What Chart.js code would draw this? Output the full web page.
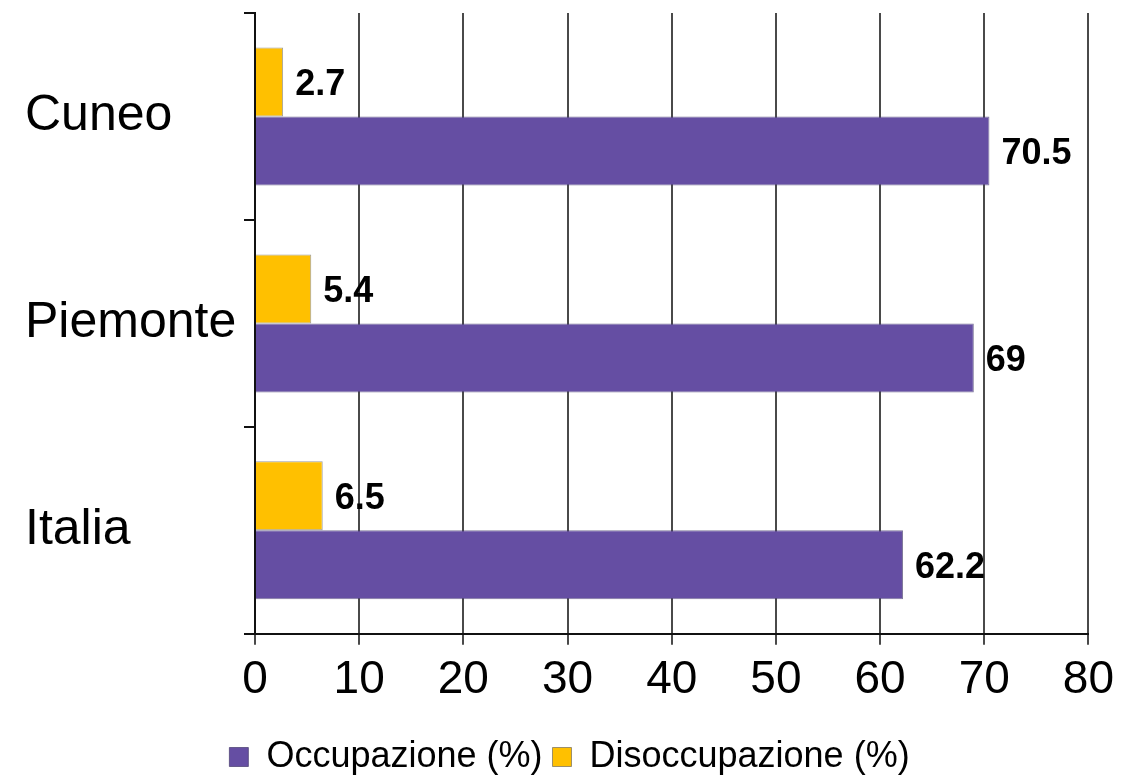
<!DOCTYPE html>
<html>
<head>
<meta charset="utf-8">
<script src="https://cdn.jsdelivr.net/npm/chart.js@4/dist/chart.umd.min.js"></script>
<style>
  body { margin: 0; background: #fff; }
  #myChart { display: block; }
</style>
</head>
<body>
<canvas id="myChart" width="1122" height="779"></canvas>
<script>
// Occupazione / disoccupazione per area
const areas = ["Cuneo", "Piemonte", "Italia"];
const occupazione = [70.5, 69, 62.2];
const disoccupazione = [2.7, 5.4, 6.5];
const xTicks = [0, 10, 20, 30, 40, 50, 60, 70, 80];

const FONT = "'Liberation Sans', Arial, sans-serif";

// simple value labels next to the bar ends
const valueLabels = {
  id: "valueLabels",
  afterDatasetsDraw(chart) {
    const ctx = chart.ctx;
    ctx.save();
    ctx.font = "bold 36px " + FONT;
    ctx.fillStyle = "#000";
    ctx.textAlign = "left";
    ctx.textBaseline = "middle";
    chart.data.datasets.forEach((ds, i) => {
      chart.getDatasetMeta(i).data.forEach((bar, j) => {
        ctx.fillText(String(ds.data[j]), bar.x + 12, bar.y + 3);
      });
    });
    ctx.restore();
  }
};

const myChart = new Chart("myChart", {
  type: "bar",
  data: {
    labels: areas,
    datasets: [
      {
        label: "Disoccupazione (%)",
        data: disoccupazione,
        backgroundColor: "#FFC000",
        borderColor: "rgba(90,90,90,0.6)",
        borderWidth: 1,
        categoryPercentage: 0.667,
        barPercentage: 1.0
      },
      {
        label: "Occupazione (%)",
        data: occupazione,
        backgroundColor: "#654EA3",
        borderColor: "rgba(70,60,110,0.7)",
        borderWidth: 1,
        categoryPercentage: 0.667,
        barPercentage: 1.0
      }
    ]
  },
  options: {
    indexAxis: "y",
    responsive: false,
    animation: false,
    devicePixelRatio: 1,
    layout: { padding: { left: 25, top: 13, right: 8, bottom: -6 } },
    scales: {
      x: {
        min: 0,
        max: 80,
        afterBuildTicks(scale) {
          scale.ticks = xTicks.map(v => ({ value: v }));
        },
        afterFit(scale) { scale.height += 13; },
        grid: { color: "#4a4a4a", lineWidth: 2, tickLength: 11 },
        border: { color: "#111", width: 2 },
        ticks: {
          color: "#000",
          padding: 8,
          font: { family: FONT, size: 46 }
        }
      },
      y: {
        afterFit(scale) {
          scale.width = 230;
          scale.paddingTop = 0;
          scale.paddingBottom = 0;
        },
        grid: { drawOnChartArea: false, color: "#111", lineWidth: 2, tickLength: 11, offset: true },
        border: { color: "#111", width: 2 },
        ticks: {
          color: "#000",
          crossAlign: "far",
          font: { family: FONT, size: 50 }
        }
      }
    },
    plugins: {
      legend: {
        position: "bottom",
        reverse: true,
        labels: {
          color: "#000",
          boxWidth: 19,
          boxHeight: 19,
          padding: 10,
          font: { family: FONT, size: 36 }
        }
      },
      tooltip: { enabled: false }
    }
  },
  plugins: [valueLabels]
});
</script>
</body>
</html>
